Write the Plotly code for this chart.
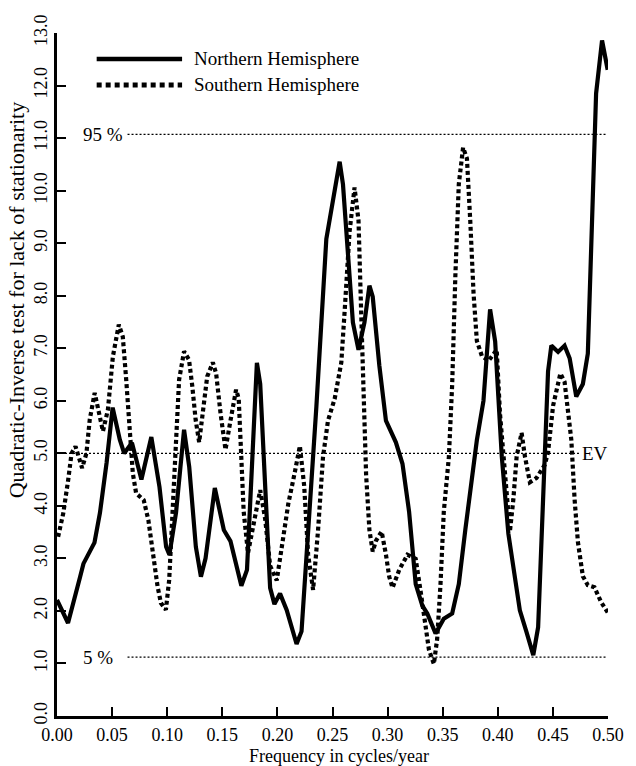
import plotly.graph_objects as go

# Northern Hemisphere (solid)
freq_nh = [0.000, 0.010, 0.021, 0.024, 0.034, 0.039, 0.045, 0.0505, 0.057, 0.061,
           0.068, 0.0766, 0.0856, 0.093, 0.099, 0.102, 0.108, 0.1126, 0.1153, 0.120,
           0.126, 0.1306, 0.1348, 0.1432, 0.1514, 0.1574, 0.1673, 0.1724, 0.1814, 0.1844,
           0.1889, 0.1934, 0.1973, 0.2024, 0.2084, 0.2174, 0.2219, 0.228, 0.2354, 0.2444,
           0.2565, 0.2595, 0.264, 0.2685, 0.2736, 0.279, 0.2835, 0.2865, 0.2925, 0.2985,
           0.3075, 0.3135, 0.3195, 0.3255, 0.3315, 0.336, 0.3435, 0.351, 0.3586, 0.3646,
           0.3705, 0.3766, 0.381, 0.387, 0.393, 0.3976, 0.4036, 0.4096, 0.4156, 0.420,
           0.426, 0.4322, 0.4366, 0.4412, 0.4456, 0.4486, 0.4547, 0.4606, 0.4652, 0.4712,
           0.4772, 0.4817, 0.4847, 0.4892, 0.4946, 0.4997]
qi_nh = [2.21, 1.77, 2.65, 2.9, 3.3, 3.87, 4.82, 5.87, 5.26, 5.0,
         5.2, 4.5, 5.31, 4.36, 3.22, 3.07, 3.87, 5.0, 5.45, 4.74,
         3.22, 2.65, 3.0, 4.34, 3.54, 3.33, 2.48, 2.78, 6.72, 6.32,
         4.24, 2.44, 2.13, 2.33, 2.02, 1.37, 1.61, 3.54, 5.9, 9.08,
         10.55, 10.12, 8.74, 7.49, 6.97, 7.49, 8.19, 7.98, 6.67, 5.62,
         5.21, 4.8, 3.89, 2.51, 2.1, 1.95, 1.57, 1.85, 1.95, 2.51,
         3.54, 4.59, 5.25, 6.0, 7.74, 7.13, 4.94, 3.47, 2.66, 2.01,
         1.6, 1.16, 1.69, 4.12, 6.56, 7.05, 6.93, 7.05, 6.81, 6.08,
         6.32, 6.9, 9.0, 11.85, 12.86, 12.3]

# Southern Hemisphere (dotted)
freq_sh = [0.001, 0.0057, 0.0102, 0.0132, 0.0168, 0.0207, 0.0228, 0.0267, 0.0297, 0.0342,
           0.0372, 0.0417, 0.0462, 0.0507, 0.0561, 0.0597, 0.0628, 0.0658, 0.0688, 0.0718,
           0.0787, 0.0829, 0.0868, 0.0913, 0.0943, 0.0988, 0.1018, 0.1048, 0.1078, 0.1108,
           0.1153, 0.1198, 0.1228, 0.1258, 0.129, 0.1333, 0.1363, 0.1414, 0.1444, 0.1484,
           0.1529, 0.1574, 0.1625, 0.1649, 0.1673, 0.1694, 0.1733, 0.1784, 0.1844, 0.1889,
           0.1934, 0.1994, 0.2039, 0.2099, 0.2159, 0.2204, 0.2243, 0.2279, 0.2324, 0.2369,
           0.2414, 0.2459, 0.252, 0.258, 0.261, 0.2655, 0.270, 0.2736, 0.276, 0.2784,
           0.2805, 0.2835, 0.2865, 0.2895, 0.2946, 0.2985, 0.3015, 0.3045, 0.3105, 0.318,
           0.3255, 0.330, 0.3345, 0.3375, 0.342, 0.345, 0.348, 0.351, 0.3556, 0.3586,
           0.3615, 0.3646, 0.3685, 0.372, 0.375, 0.378, 0.381, 0.3856, 0.3916, 0.399,
           0.402, 0.408, 0.411, 0.4141, 0.4171, 0.4216, 0.4246, 0.4291, 0.4351, 0.4426,
           0.4456, 0.4502, 0.4568, 0.4606, 0.4667, 0.4697, 0.4727, 0.4772, 0.4817, 0.4877,
           0.4937, 0.4997]
qi_sh = [3.41, 3.86, 4.5, 5.0, 5.13, 4.88, 4.72, 5.0, 5.64, 6.15,
         5.89, 5.42, 5.83, 6.84, 7.45, 7.22, 6.4, 5.45, 4.62, 4.24,
         4.11, 3.73, 3.1, 2.46, 2.15, 2.02, 2.59, 3.86, 5.45, 6.4,
         6.94, 6.78, 6.27, 5.64, 5.21, 5.9, 6.46, 6.73, 6.52, 5.76,
         5.07, 5.62, 6.21, 6.04, 4.93, 3.89, 3.1, 3.68, 4.3, 3.75,
         2.86, 2.58, 3.2, 4.04, 4.65, 5.14, 4.38, 3.07, 2.4, 3.54,
         4.93, 5.62, 6.04, 6.73, 7.7, 9.22, 10.06, 9.43, 7.7, 5.62,
         4.59, 3.54, 3.13, 3.34, 3.51, 3.07, 2.65, 2.44, 2.78, 3.07,
         2.99, 2.37, 1.75, 1.26, 0.99, 1.47, 2.51, 3.89, 4.93, 6.31,
         8.39, 10.12, 10.82, 10.61, 9.43, 8.04, 7.14, 6.85, 6.76, 6.97,
         5.75, 4.12, 3.51, 4.12, 4.94, 5.39, 4.94, 4.45, 4.53, 4.78,
         5.02, 5.91, 6.52, 6.36, 5.26, 4.12, 3.31, 2.66, 2.49, 2.45,
         2.17, 1.97]

# Reference levels
level_95 = 11.07
level_ev = 5.0
level_5 = 1.12

x_ticks = [0.00, 0.05, 0.10, 0.15, 0.20, 0.25, 0.30, 0.35, 0.40, 0.45, 0.50]
x_labels = ["0.00", "0.05", "0.10", "0.15", "0.20", "0.25", "0.30", "0.35", "0.40", "0.45", "0.50"]
y_ticks = list(range(0, 14))
y_labels = ["%.1f" % v for v in y_ticks]

FONT = "Liberation Serif"
FS = 19

fig = go.Figure()

ref_line = dict(color="black", width=1.2, dash="2px,2px")
fig.add_trace(go.Scatter(x=[0.064, 0.498], y=[level_95, level_95], mode="lines",
                         line=ref_line, hoverinfo="skip", showlegend=False))
fig.add_trace(go.Scatter(x=[0.0, 0.474], y=[level_ev, level_ev], mode="lines",
                         line=ref_line, hoverinfo="skip", showlegend=False))
fig.add_trace(go.Scatter(x=[0.064, 0.498], y=[level_5, level_5], mode="lines",
                         line=ref_line, hoverinfo="skip", showlegend=False))

fig.add_trace(go.Scatter(x=freq_nh, y=qi_nh, mode="lines", name="Northern Hemisphere",
                         line=dict(color="black", width=4.2), showlegend=False))
fig.add_trace(go.Scatter(x=freq_sh, y=qi_sh, mode="lines", name="Southern Hemisphere",
                         line=dict(color="black", width=4.2, dash="4px,3px"), showlegend=False))

# Manual legend
fig.add_shape(type="line", xref="paper", yref="paper", x0=0.072, x1=0.227, y0=0.962, y1=0.962,
              line=dict(color="black", width=4.5))
fig.add_shape(type="line", xref="paper", yref="paper", x0=0.072, x1=0.227, y0=0.924, y1=0.924,
              line=dict(color="black", width=5, dash="5px,4px"))
fig.add_annotation(text="Northern Hemisphere", xref="paper", yref="paper", x=0.245, y=0.962,
                   xanchor="left", yanchor="middle", showarrow=False,
                   font=dict(family=FONT, size=FS, color="black"))
fig.add_annotation(text="Southern Hemisphere", xref="paper", yref="paper", x=0.245, y=0.924,
                   xanchor="left", yanchor="middle", showarrow=False,
                   font=dict(family=FONT, size=FS, color="black"))

# Level labels
fig.add_annotation(text="95 %", x=0.042, y=level_95, xanchor="center", yanchor="middle",
                   showarrow=False, font=dict(family=FONT, size=FS, color="black"))
fig.add_annotation(text="5 %", x=0.037, y=level_5, xanchor="center", yanchor="middle",
                   showarrow=False, font=dict(family=FONT, size=FS, color="black"))
fig.add_annotation(text="EV", x=0.475, y=level_ev, xanchor="left", yanchor="middle",
                   showarrow=False, font=dict(family=FONT, size=FS, color="black"))

# Axis titles
fig.add_annotation(text="Quadratic-Inverse test for lack of stationarity", xref="paper", yref="paper",
                   x=-0.074, y=0.609, textangle=-90, xanchor="center", yanchor="middle",
                   showarrow=False, font=dict(family=FONT, size=22, color="black"))
fig.add_annotation(text="Frequency in cycles/year", xref="paper", yref="paper",
                   x=0.512, y=-0.041, xanchor="center", yanchor="top",
                   showarrow=False, font=dict(family=FONT, size=18, color="black"))

fig.update_layout(
    width=636, height=766,
    margin=dict(l=57, r=24, t=33, b=50),
    paper_bgcolor="white", plot_bgcolor="white",
    font=dict(family=FONT, size=FS, color="black"),
    showlegend=False,
)
fig.update_xaxes(range=[0, 0.5], tickvals=x_ticks, ticktext=x_labels, showline=True,
                 linecolor="black", linewidth=3, ticks="inside", ticklen=9, tickwidth=2,
                 tickcolor="black", showgrid=False, zeroline=False,
                 tickfont=dict(family=FONT, size=18, color="black"))
fig.update_yaxes(range=[0, 13], tickvals=y_ticks, ticktext=y_labels, showline=True,
                 linecolor="black", linewidth=3, ticks="inside", ticklen=9, tickwidth=2,
                 tickcolor="black", showgrid=False, zeroline=False, tickangle=-90,
                 tickfont=dict(family=FONT, size=18, color="black"))

fig.write_html("out.html")
